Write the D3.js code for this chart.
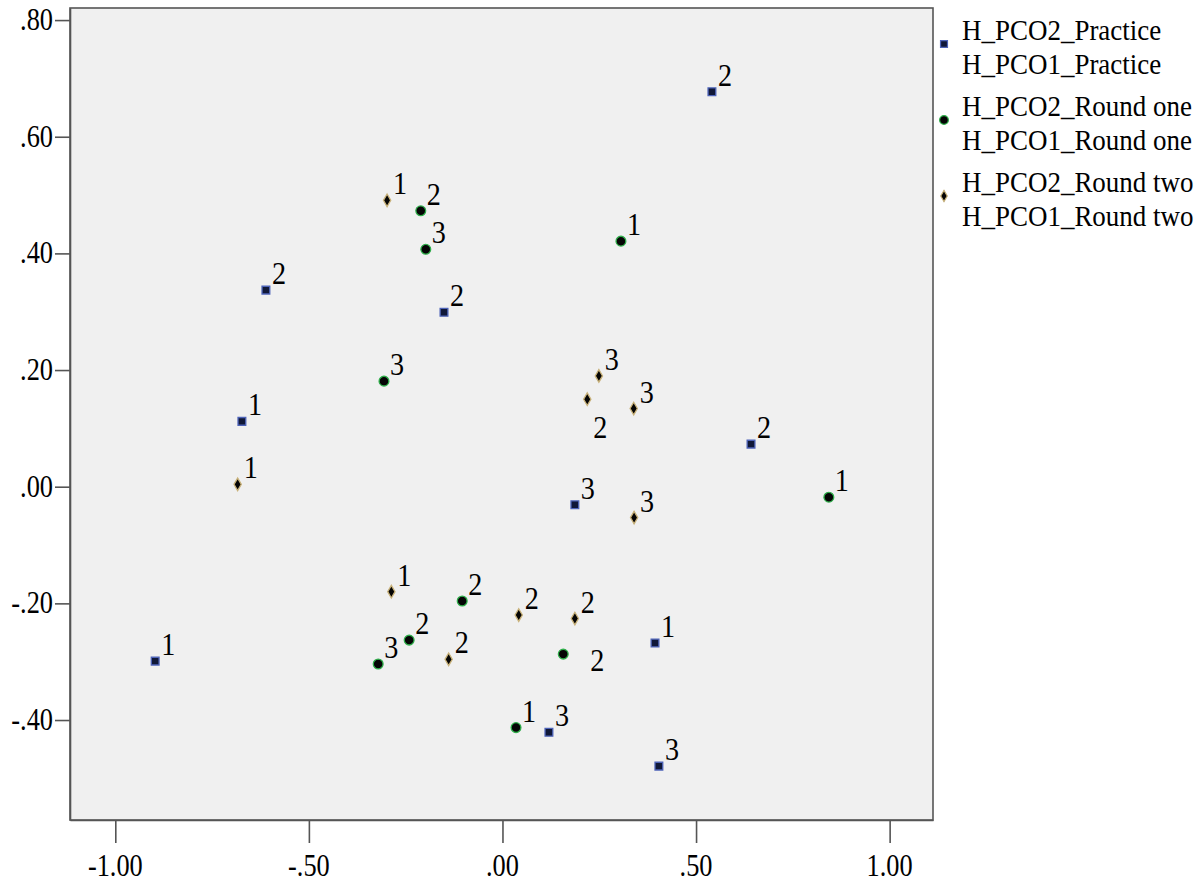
<!DOCTYPE html>
<html>
<head>
<meta charset="utf-8">
<script src="https://cdn.jsdelivr.net/npm/d3@7"></script>
<style>
  html, body { margin: 0; padding: 0; background: #ffffff; }
  svg { display: block; }
</style>
</head>
<body>
<svg id="chart" width="1204" height="883"></svg>
<script>
// Group-space coordinates (dimension 1 on x, dimension 2 on y)
const practiceX = [-0.897, -0.673, -0.611, -0.151, 0.187, 0.120, 0.394, 0.404, 0.541, 0.642];
const practiceY = [-0.299, 0.112, 0.337, 0.299, -0.031, -0.421, -0.268, -0.479, 0.677, 0.073];
const practiceLabels = ["1", "1", "2", "2", "3", "3", "1", "3", "2", "2"];

const roundOneX = [0.843, 0.306, -0.211, -0.198, -0.306, -0.104, -0.241, -0.321, 0.157, 0.035];
const roundOneY = [-0.018, 0.421, 0.473, 0.407, 0.181, -0.196, -0.263, -0.304, -0.287, -0.413];
const roundOneLabels = ["1", "1", "2", "3", "3", "2", "2", "3", "2", "1"];

const roundTwoX = [-0.298, -0.684, 0.249, 0.219, 0.339, 0.340, -0.287, 0.042, 0.187, -0.139];
const roundTwoY = [0.491, 0.004, 0.190, 0.150, 0.134, -0.053, -0.180, -0.220, -0.226, -0.296];
const roundTwoLabels = ["1", "1", "3", "2", "3", "3", "1", "2", "2", "2"];

const seriesNames = [
  ["H_PCO2_Practice", "H_PCO1_Practice"],
  ["H_PCO2_Round one", "H_PCO1_Round one"],
  ["H_PCO2_Round two", "H_PCO1_Round two"]
];

const xTicks = [-1.0, -0.5, 0.0, 0.5, 1.0];
const yTicks = [0.8, 0.6, 0.4, 0.2, 0.0, -0.2, -0.4];

// label placement for points whose labels were moved to avoid overlap
const labelPlacement = { "1-8": "east", "2-3": "below" };

const svg = d3.select("#chart");
const plot = { left: 70, right: 933, top: 8, bottom: 820 };
const serif = '"Liberation Serif", "Times New Roman", serif';

const x = d3.scaleLinear().domain([-1.117, 1.112]).range([plot.left, plot.right]);
const y = d3.scaleLinear().domain([-0.5714, 0.8207]).range([plot.bottom, plot.top]);

function fmt(v) {
  const s = Math.abs(v).toFixed(2).replace(/^0/, "");
  return (v < 0 ? "-" : "") + s;
}

// narrow serif lettering: text drawn at a given size and squeezed horizontally
function addText(parent, tx, ty, str, anchor, size, squeeze) {
  return parent.append("text")
    .attr("transform", `translate(${tx},${ty}) scale(${squeeze},1)`)
    .attr("text-anchor", anchor)
    .style("font-family", serif)
    .style("font-size", size + "px")
    .style("fill", "#000")
    .text(str);
}

// plot background
svg.append("rect")
  .attr("x", plot.left).attr("y", plot.top)
  .attr("width", plot.right - plot.left).attr("height", plot.bottom - plot.top)
  .attr("fill", "#f0f0f0")
  .attr("stroke", "#555").attr("stroke-width", 1.6);

// axes
const xAxis = d3.axisBottom(x).tickValues(xTicks).tickSize(23).tickSizeOuter(0).tickFormat(() => "");
const yAxis = d3.axisLeft(y).tickValues(yTicks).tickSize(15).tickSizeOuter(0).tickFormat(() => "");

const gx = svg.append("g").attr("transform", `translate(0,${plot.bottom})`).call(xAxis);
const gy = svg.append("g").attr("transform", `translate(${plot.left},0)`).call(yAxis);
[gx, gy].forEach(g => {
  g.select(".domain").attr("stroke", "#555").attr("stroke-width", 1.6);
  g.selectAll(".tick line").attr("stroke", "#555").attr("stroke-width", 1.6);
});

const labelLayer = svg.append("g");
xTicks.forEach(v => addText(labelLayer, x(v), 876, fmt(v), "middle", 31, 0.85));
yTicks.forEach(v => addText(labelLayer, 53, y(v) + 10, fmt(v), "end", 31, 0.85));

// marker shapes
const markers = [
  { shape: d3.symbolSquare, size: 60, fill: "#101838", stroke: "#4d63b8" },
  { shape: d3.symbolCircle, size: 75, fill: "#050505", stroke: "#2fae4a" },
  { shape: d3.symbolDiamond, size: 46, fill: "#050505", stroke: "#c9b27a" }
];

const series = [
  { xs: practiceX, ys: practiceY, labels: practiceLabels },
  { xs: roundOneX, ys: roundOneY, labels: roundOneLabels },
  { xs: roundTwoX, ys: roundTwoY, labels: roundTwoLabels }
];

series.forEach((s, si) => {
  const m = markers[si];
  const pts = s.xs.map((vx, i) => ({ vx, vy: s.ys[i], label: s.labels[i], key: `${si}-${i}` }));
  const g = svg.append("g");
  g.selectAll("path")
    .data(pts)
    .join("path")
    .attr("transform", d => `translate(${x(d.vx)},${y(d.vy)})`)
    .attr("d", d3.symbol().type(m.shape).size(m.size))
    .attr("fill", m.fill)
    .attr("stroke", m.stroke)
    .attr("stroke-width", 1.3);
  pts.forEach(d => {
    const px = x(d.vx), py = y(d.vy);
    const place = labelPlacement[d.key];
    let lx = px + 6, ly = py - 6;
    if (place === "east") { lx = px + 27; ly = py + 17; }
    if (place === "below") { lx = px + 6; ly = py + 39; }
    addText(labelLayer, lx, ly, d.label, "start", 32, 0.88);
  });
});

// legend
const legend = svg.append("g");
seriesNames.forEach((names, i) => {
  const top = 31 + i * 76;
  const m = markers[i];
  legend.append("path")
    .attr("transform", `translate(944,${top + 13})`)
    .attr("d", d3.symbol().type(m.shape).size(m.size * 0.8))
    .attr("fill", m.fill).attr("stroke", m.stroke).attr("stroke-width", 1.2);
  addText(legend, 962, top + 9, names[0], "start", 29, 0.93);
  addText(legend, 962, top + 43, names[1], "start", 29, 0.93);
});
</script>
</body>
</html>
